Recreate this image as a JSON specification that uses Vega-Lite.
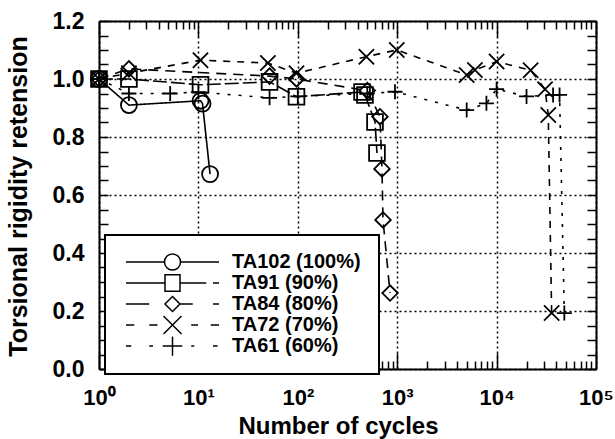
{
  "$schema": "https://vega.github.io/schema/vega-lite/v6.json",
  "width": 497,
  "height": 348,
  "autosize": "none",
  "padding": {"left": 99, "top": 21, "right": 19, "bottom": 70},
  "config": {"view": {"stroke": null}, "font": "Liberation Sans", "legend": {"strokeWidth": 2}},
  "data": {"values": [
    {"series": "TA102 (100%)", "cycles": 1, "value": 1.0},
    {"series": "TA102 (100%)", "cycles": 2, "value": 0.91},
    {"series": "TA102 (100%)", "cycles": 10.5, "value": 0.925},
    {"series": "TA102 (100%)", "cycles": 11, "value": 0.915},
    {"series": "TA102 (100%)", "cycles": 13.1, "value": 0.672},
    {"series": "TA91 (90%)", "cycles": 1, "value": 1.0},
    {"series": "TA91 (90%)", "cycles": 2, "value": 1.0},
    {"series": "TA91 (90%)", "cycles": 10.5, "value": 0.98},
    {"series": "TA91 (90%)", "cycles": 52, "value": 0.99},
    {"series": "TA91 (90%)", "cycles": 97, "value": 0.939},
    {"series": "TA91 (90%)", "cycles": 443, "value": 0.955},
    {"series": "TA91 (90%)", "cycles": 474, "value": 0.945},
    {"series": "TA91 (90%)", "cycles": 598, "value": 0.852},
    {"series": "TA91 (90%)", "cycles": 626, "value": 0.745},
    {"series": "TA84 (80%)", "cycles": 1, "value": 1.0},
    {"series": "TA84 (80%)", "cycles": 2, "value": 1.035},
    {"series": "TA84 (80%)", "cycles": 52, "value": 1.01},
    {"series": "TA84 (80%)", "cycles": 97, "value": 1.0},
    {"series": "TA84 (80%)", "cycles": 500, "value": 0.96},
    {"series": "TA84 (80%)", "cycles": 671, "value": 0.87},
    {"series": "TA84 (80%)", "cycles": 703, "value": 0.69},
    {"series": "TA84 (80%)", "cycles": 720, "value": 0.514},
    {"series": "TA84 (80%)", "cycles": 847, "value": 0.262},
    {"series": "TA72 (70%)", "cycles": 1, "value": 1.0},
    {"series": "TA72 (70%)", "cycles": 2, "value": 1.02},
    {"series": "TA72 (70%)", "cycles": 10.5, "value": 1.065},
    {"series": "TA72 (70%)", "cycles": 50, "value": 1.055},
    {"series": "TA72 (70%)", "cycles": 97, "value": 1.02},
    {"series": "TA72 (70%)", "cycles": 490, "value": 1.077},
    {"series": "TA72 (70%)", "cycles": 990, "value": 1.1},
    {"series": "TA72 (70%)", "cycles": 5000, "value": 1.014},
    {"series": "TA72 (70%)", "cycles": 6050, "value": 1.031},
    {"series": "TA72 (70%)", "cycles": 10000, "value": 1.06},
    {"series": "TA72 (70%)", "cycles": 22000, "value": 1.03},
    {"series": "TA72 (70%)", "cycles": 30700, "value": 0.965},
    {"series": "TA72 (70%)", "cycles": 33100, "value": 0.876},
    {"series": "TA72 (70%)", "cycles": 35800, "value": 0.193},
    {"series": "TA61 (60%)", "cycles": 1, "value": 1.0},
    {"series": "TA61 (60%)", "cycles": 2, "value": 0.95},
    {"series": "TA61 (60%)", "cycles": 5.2, "value": 0.95},
    {"series": "TA61 (60%)", "cycles": 10, "value": 0.955},
    {"series": "TA61 (60%)", "cycles": 52, "value": 0.935},
    {"series": "TA61 (60%)", "cycles": 100, "value": 0.94},
    {"series": "TA61 (60%)", "cycles": 500, "value": 0.95},
    {"series": "TA61 (60%)", "cycles": 950, "value": 0.956},
    {"series": "TA61 (60%)", "cycles": 5000, "value": 0.893},
    {"series": "TA61 (60%)", "cycles": 7900, "value": 0.916},
    {"series": "TA61 (60%)", "cycles": 10000, "value": 0.965},
    {"series": "TA61 (60%)", "cycles": 20000, "value": 0.94},
    {"series": "TA61 (60%)", "cycles": 37000, "value": 0.945},
    {"series": "TA61 (60%)", "cycles": 43000, "value": 0.945},
    {"series": "TA61 (60%)", "cycles": 48000, "value": 0.193}
  ]},
  "layer": [
    {
      "mark": {"type": "line", "color": "black", "strokeWidth": 1.6},
      "encoding": {
        "x": {"field": "cycles", "type": "quantitative",
          "scale": {"type": "log", "domain": [1, 100000], "nice": false},
          "axis": {
            "orient": "bottom",
            "values": [1,2,3,4,5,6,7,8,9,10,20,30,40,50,60,70,80,90,100,200,300,400,500,600,700,800,900,1000,2000,3000,4000,5000,6000,7000,8000,9000,10000,20000,30000,40000,50000,60000,70000,80000,90000,100000],
            "labelExpr": "abs(log(datum.value)/LN10 - round(log(datum.value)/LN10)) < 0.001 ? ['10⁰','10¹','10²','10³','10⁴','10⁵'][round(log(datum.value)/LN10)] : ''",
            "labelOverlap": false, "labelFlush": false, "labelBound": false,
            "labelFont": "Liberation Sans", "labelFontSize": 22, "labelFontWeight": "bold", "labelColor": "black", "labelPadding": 34,
            "tickSize": {"condition": {"test": "abs(log(datum.value)/LN10 - round(log(datum.value)/LN10)) < 0.001", "value": -16}, "value": -8},
            "tickColor": "black", "tickWidth": 1.5,
            "domainColor": "black", "domainWidth": 2,
            "grid": true, "gridColor": "black", "gridDash": [2, 3], "gridWidth": 1.5,
            "gridOpacity": {"condition": {"test": "abs(log(datum.value)/LN10 - round(log(datum.value)/LN10)) < 0.001", "value": 1}, "value": 0},
            "title": "Number of cycles", "titleFont": "Liberation Sans", "titleFontSize": 24, "titleFontWeight": "bold", "titleColor": "black",
            "titleX": 239, "titleY": 64, "titleAlign": "center", "titleBaseline": "alphabetic"
          }},
        "y": {"field": "value", "type": "quantitative",
          "scale": {"domain": [0, 1.2], "nice": false, "zero": false},
          "axis": {
            "orient": "left",
            "values": [0,0.05,0.1,0.15,0.2,0.25,0.3,0.35,0.4,0.45,0.5,0.55,0.6,0.65,0.7,0.75,0.8,0.85,0.9,0.95,1,1.05,1.1,1.15,1.2],
            "labelExpr": "abs(datum.value*5 - round(datum.value*5)) < 0.001 ? format(datum.value, '.1f') : ''",
            "labelOverlap": false, "labelFlush": false, "labelBound": false,
            "labelFont": "Liberation Sans", "labelFontSize": 23, "labelFontWeight": "bold", "labelColor": "black", "labelPadding": 24,
            "tickSize": -9, "tickColor": "black", "tickWidth": 1.5,
            "domainColor": "black", "domainWidth": 2,
            "grid": true, "gridColor": "black", "gridDash": [2, 3], "gridWidth": 1.5,
            "gridOpacity": {"condition": {"test": "abs(datum.value*5 - round(datum.value*5)) < 0.001", "value": 1}, "value": 0},
            "title": "Torsional rigidity retension", "titleFont": "Liberation Sans", "titleFontSize": 25, "titleFontWeight": "bold", "titleColor": "black",
            "titleX": -81, "titleY": 175, "titleAngle": 270, "titleAlign": "center", "titleBaseline": "middle"
          }},
        "strokeDash": {"field": "series", "type": "nominal",
          "scale": {"domain": ["TA102 (100%)", "TA91 (90%)", "TA84 (80%)", "TA72 (70%)", "TA61 (60%)"],
                    "range": [[1, 0], [14, 4], [10, 7], [7, 7], [3, 8]]},
          "legend": null}
      }
    },
    {
      "mark": {"type": "point", "filled": false, "color": "black", "strokeWidth": 1.8, "opacity": 1},
      "encoding": {
        "x": {"field": "cycles", "type": "quantitative", "scale": {"type": "log", "domain": [1, 100000], "nice": false}, "axis": null},
        "y": {"field": "value", "type": "quantitative", "scale": {"domain": [0, 1.2], "nice": false, "zero": false}, "axis": null},
        "shape": {"field": "series", "type": "nominal",
          "scale": {"domain": ["TA102 (100%)", "TA91 (90%)", "TA84 (80%)", "TA72 (70%)", "TA61 (60%)"],
                    "range": ["circle", "square", "diamond", "M-1,-1L1,1M-1,1L1,-1", "M-1,0H1M0,-1V1"]},
          "legend": null},
        "size": {"field": "series", "type": "ordinal",
          "scale": {"domain": ["TA102 (100%)", "TA91 (90%)", "TA84 (80%)", "TA72 (70%)", "TA61 (60%)"],
                    "range": [256, 225, 225, 340, 361]},
          "legend": null}
      }
    },
    {
      "transform": [{"filter": "false"}],
      "mark": {"type": "point", "filled": false, "color": "black", "strokeWidth": 1.5},
      "encoding": {
        "x": {"field": "cycles", "type": "quantitative",
          "scale": {"type": "log", "domain": [1, 100000], "nice": false},
          "axis": {
            "orient": "top",
            "values": [1,2,3,4,5,6,7,8,9,10,20,30,40,50,60,70,80,90,100,200,300,400,500,600,700,800,900,1000,2000,3000,4000,5000,6000,7000,8000,9000,10000,20000,30000,40000,50000,60000,70000,80000,90000,100000],
            "labels": false, "grid": false, "title": null,
            "tickSize": {"condition": {"test": "abs(log(datum.value)/LN10 - round(log(datum.value)/LN10)) < 0.001", "value": -16}, "value": -8},
            "tickColor": "black", "tickWidth": 1.5, "domainColor": "black", "domainWidth": 2
          }},
        "y": {"field": "value", "type": "quantitative",
          "scale": {"domain": [0, 1.2], "nice": false, "zero": false},
          "axis": {
            "orient": "right",
            "values": [0,0.05,0.1,0.15,0.2,0.25,0.3,0.35,0.4,0.45,0.5,0.55,0.6,0.65,0.7,0.75,0.8,0.85,0.9,0.95,1,1.05,1.1,1.15,1.2],
            "labels": false, "grid": false, "title": null,
            "tickSize": -9, "tickColor": "black", "tickWidth": 1.5, "domainColor": "black", "domainWidth": 2
          }},
        "shape": {"field": "series", "type": "nominal",
          "scale": {"domain": ["TA102 (100%)", "TA91 (90%)", "TA84 (80%)", "TA72 (70%)", "TA61 (60%)"],
                    "range": [
                      "M-6.2,0H-1.07M1.07,0H6.2M1.07,0A1.07,1.07 0 1,1 -1.07,0A1.07,1.07 0 1,1 1.07,0Z",
                      "M-6.2,0H-1M1,0H4.5M5.4,0H6.2M-1,-1.1H1V1.1H-1Z",
                      "M-6.2,0H-3.1M1,0H2.7M5.4,0H6.2M0,-1L1,0L0,1L-1,0Z",
                      "M-6.2,0H-5.1M-3.1,0H-2M2.5,0H3.4M5.1,0H6.2M-1.2,-1.2L1.2,1.2M-1.2,1.2L1.2,-1.2",
                      "M-6.2,0H-5.5M-3.1,0H-2.6M2.5,0H2.9M5.4,0H6M-1.3,0H1.3M0,-1.3V1.3"
                    ]},
          "legend": {
            "orient": "none", "legendX": 6, "legendY": 214, "title": null,
            "labelFont": "Liberation Sans", "labelFontSize": 20, "labelFontWeight": "bold", "labelColor": "black",
            "symbolSize": 225, "symbolStrokeWidth": 1.5, "symbolStrokeColor": "black", "symbolFillColor": "transparent", "symbolOpacity": 1,
            "symbolOffset": 40, "labelOffset": 49.5, "rowPadding": 0, "clipHeight": 19, "padding": 17.5,
            "strokeColor": "black", "fillColor": "white"
          }}
      }
    }
  ],
  "resolve": {"scale": {"x": "independent", "y": "independent", "shape": "independent"}}
}
